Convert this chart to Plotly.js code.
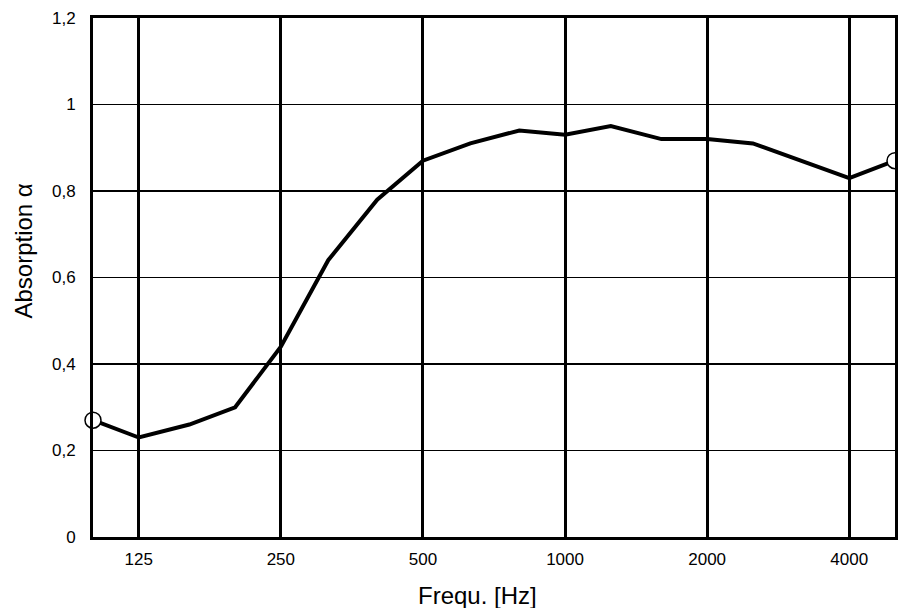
<!DOCTYPE html>
<html>
<head>
<meta charset="utf-8">
<script src="https://cdn.plot.ly/plotly-3.0.1.min.js"></script>
<style>html,body{margin:0;padding:0;background:#fff;}#chart{width:898px;height:608px;}</style>
</head>
<body>
<div id="chart"></div>
<script>
const freqs = [100, 125, 160, 200, 250, 315, 400, 500, 630, 800, 1000, 1250, 1600, 2000, 2500, 3150, 4000, 5000];
const alpha = [0.27, 0.23, 0.26, 0.30, 0.44, 0.64, 0.78, 0.87, 0.91, 0.94, 0.93, 0.95, 0.92, 0.92, 0.91, 0.87, 0.83, 0.87];
const xTicks = [125, 250, 500, 1000, 2000, 4000];
const xTickLabels = ['125', '250', '500', '1000', '2000', '4000'];
const yTicks = [0, 0.2, 0.4, 0.6, 0.8, 1, 1.2];
const yTickLabels = ['0', '0,2', '0,4', '0,6', '0,8', '1', '1,2'];
const xTitle = 'Frequ. [Hz]';
const yTitle = 'Absorption α';

const endX = [freqs[0], freqs[freqs.length - 1]];
const endY = [alpha[0], alpha[alpha.length - 1]];

const font = {family: 'Liberation Sans, Arial, sans-serif', color: '#000'};

const data = [
  {x: freqs, y: alpha, type: 'scatter', mode: 'lines',
   line: {color: '#000', width: 4}, cliponaxis: false, hoverinfo: 'skip'},
  {x: endX, y: endY, type: 'scatter', mode: 'markers',
   marker: {size: 16, color: '#fff', line: {color: '#000', width: 1.5}},
   cliponaxis: false, hoverinfo: 'skip'}
];

const layout = {
  width: 898, height: 608,
  margin: {l: 93, r: 3, t: 18, b: 71},
  paper_bgcolor: '#fff', plot_bgcolor: '#fff',
  showlegend: false,
  font: Object.assign({size: 17}, font),
  xaxis: {
    type: 'log',
    range: [Math.log10(100), Math.log10(5000)],
    tickvals: xTicks, ticktext: xTickLabels,
    showgrid: true, gridcolor: '#000', gridwidth: 3,
    showline: true, linecolor: '#000', linewidth: 3, mirror: true,
    ticks: '', zeroline: false,
    ticklabelstandoff: 5,
    tickfont: Object.assign({size: 17}, font)
  },
  yaxis: {
    range: [0, 1.2],
    tickvals: yTicks, ticktext: yTickLabels,
    showgrid: true, gridcolor: '#000', gridwidth: 1.8,
    showline: true, linecolor: '#000', linewidth: 3, mirror: true,
    ticks: '', zeroline: false,
    ticklabelstandoff: 11,
    tickfont: Object.assign({size: 17}, font)
  },
  annotations: [
    {text: xTitle, xref: 'paper', yref: 'paper', x: 0.48, y: 0,
     xanchor: 'center', yanchor: 'middle', yshift: -58,
     showarrow: false, font: Object.assign({size: 24}, font)},
    {text: yTitle, xref: 'paper', yref: 'paper', x: 0, y: 0.55,
     xanchor: 'center', yanchor: 'middle', xshift: -69, textangle: -90,
     showarrow: false, font: Object.assign({size: 24}, font)}
  ]
};

Plotly.newPlot('chart', data, layout, {displayModeBar: false, staticPlot: true});
</script>
</body>
</html>
